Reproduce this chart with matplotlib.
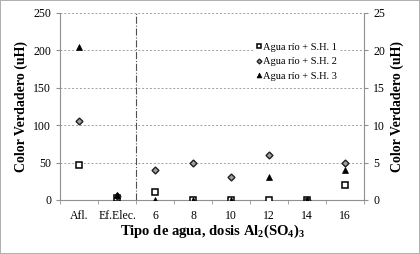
import numpy as np
import matplotlib.pyplot as plt

plt.rcParams['font.family'] = ['Liberation Serif', 'DejaVu Serif']
plt.rcParams['mathtext.fontset'] = 'custom'
plt.rcParams['mathtext.rm'] = 'Liberation Serif:bold'
plt.rcParams['mathtext.default'] = 'rm'

# categorias del eje x
categorias = ["Afl.", "Ef.Elec.", "6", "8", "10", "12", "14", "16"]

# valores en eje izquierdo (Afl., Ef.Elec.)
sh1_tipo = [47, 2]
sh2_tipo = [105, 5]
sh3_tipo = [205, 7]

# valores en eje derecho (dosis 6..16)
sh1_dosis = [1, 0, 0, 0, 0, 2]
sh2_dosis = [4, 5, 3, 6, 0, 5]
sh3_dosis = [0, 0, 0, 3, 0, 4]

etiquetas = ["Agua río + S.H. 1", "Agua río + S.H. 2", "Agua río + S.H. 3"]

x = np.arange(len(categorias))
xt = x[:2]
xd = x[2:]

fig = plt.figure(figsize=(4.2, 2.54), dpi=100)
ax = fig.add_axes([0.143, 0.213, 0.724, 0.736])
ax2 = ax.twinx()

estilos = [
    dict(marker="s", mfc="white", mec="black", ms=5, mew=1.1),
    dict(marker="D", mfc="#a0a0a0", mec="#202020", ms=3.5, mew=1.0),
    dict(marker="^", mfc="black", mec="black", ms=5, mew=0.5),
]

series_t = [sh1_tipo, sh2_tipo, sh3_tipo]
series_d = [sh1_dosis, sh2_dosis, sh3_dosis]
handles = []
for st, sd, est, lab in zip(series_t, series_d, estilos, etiquetas):
    h, = ax.plot(xt, st, ls="none", label=lab, zorder=3, **est)
    ax2.plot(xd, sd, ls="none", zorder=3, **est)
    handles.append(h)

ax.set_xlim(-0.5, len(categorias) - 0.5)
ax.set_ylim(0, 250)
ax2.set_ylim(0, 25)
ax.set_yticks(np.arange(0, 251, 50))
ax2.set_yticks(np.arange(0, 26, 5))
ax.set_xticks(x)
ax.set_xticklabels(categorias)
ax.set_xticks(np.arange(-0.5, len(categorias), 1), minor=True)
ax.tick_params(axis="x", which="major", length=0, labelsize=8.5, pad=7)
ax.tick_params(axis="x", which="minor", length=3, color="#909090")
ax.tick_params(axis="y", length=3, color="#909090", labelsize=8.5)
ax2.tick_params(axis="y", length=3, color="#909090", labelsize=8.5)

ax.yaxis.grid(True, ls=(0, (2, 2)), color="#a0a0a0", lw=0.7)
ax.axvline(1.5, color="#505050", ls="-.", lw=0.8)

for a in (ax, ax2):
    a.spines["top"].set_visible(False)
    for s in ("left", "right", "bottom"):
        a.spines[s].set_color("#909090")
ax.spines["right"].set_visible(False)
ax2.spines["left"].set_visible(False)
ax2.spines["bottom"].set_visible(False)

ax.set_xlabel("Tipo de agua, dosis Al$_2$(SO$_4$)$_3$", fontsize=10.5, fontweight="bold", labelpad=1)
ax.set_ylabel("Color Verdadero (uH)", fontsize=10, fontweight="bold")
ax2.set_ylabel("Color Verdadero (uH)", fontsize=10, fontweight="bold")

leg = ax2.legend(handles, etiquetas, loc="upper right", bbox_to_anchor=(0.935, 0.88),
                 fontsize=7.5, frameon=True, framealpha=1, edgecolor="white",
                 handlelength=0.5, handletextpad=0.15, borderpad=0.2, labelspacing=0.5,
                 markerscale=0.7)

fig.patch.set_edgecolor("#b0b0b0")
fig.patch.set_linewidth(1.2)

fig.savefig("out.png", dpi=100, edgecolor=fig.get_edgecolor())
